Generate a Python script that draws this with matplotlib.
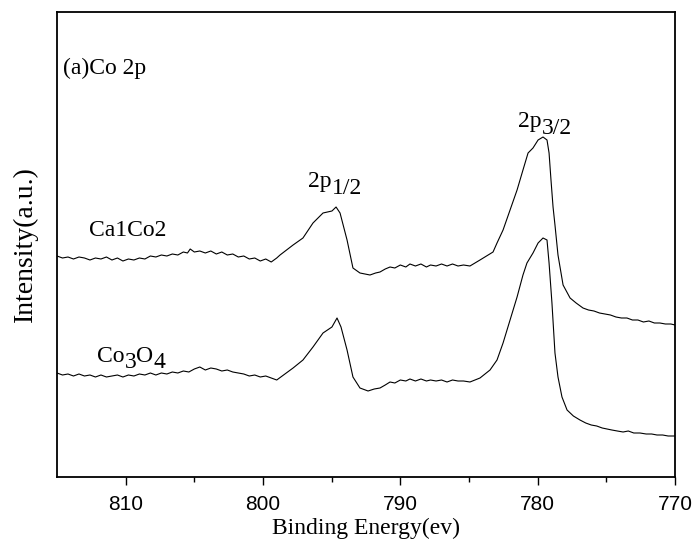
import matplotlib
matplotlib.use('Agg')
import matplotlib.pyplot as plt

# binding energy (eV) and intensity (a.u.)
ca_x = [815.0, 814.6, 814.2, 813.8, 813.4, 813.0, 812.6, 812.2, 811.8, 811.4,
        811.0, 810.6, 810.2, 809.8, 809.4, 809.0, 808.6, 808.2, 807.8, 807.4,
        807.0, 806.6, 806.2, 805.8, 805.5, 805.3, 805.0, 804.6, 804.2, 803.8,
        803.4, 803.0, 802.6, 802.2, 801.8, 801.4, 801.0, 800.6, 800.2, 799.8,
        799.4, 799.0, 798.76, 797.81, 797.09, 796.36, 795.63, 794.98, 794.68, 794.39,
        793.88, 793.45, 792.94, 792.21, 791.8, 791.48, 791.1, 790.75, 790.4, 790.0,
        789.6, 789.3, 788.9, 788.5, 788.1, 787.8, 787.4, 787.0, 786.6, 786.2,
        785.8, 785.4, 784.93, 784.20, 783.25, 782.96, 782.52, 782.01, 781.50, 781.07,
        780.70, 780.34, 779.97, 779.61, 779.32, 779.17, 779.03, 778.88, 778.74, 778.52,
        778.15, 777.64, 777.2, 776.7, 776.3, 775.9, 775.5, 775.1, 774.7, 774.3,
        773.9, 773.5, 773.1, 772.7, 772.3, 771.9, 771.5, 771.1, 770.7, 770.3,
        770.0]
ca_y = [221, 219, 220, 218, 220, 219, 217, 219, 218, 220,
        217, 219, 216, 218, 217, 219, 218, 221, 220, 222,
        221, 223, 222, 225, 224, 228, 225, 226, 224, 226,
        223, 225, 222, 223, 220, 221, 218, 219, 216, 218,
        215, 219, 222, 232, 239, 254, 264, 266, 270, 264,
        237, 209, 204, 202, 204, 205, 208, 210, 209, 212,
        210, 213, 211, 213, 210, 212, 211, 213, 211, 213,
        211, 212, 211, 217, 225, 234, 247, 267, 287, 307,
        324, 329, 337, 340, 337, 324, 297, 270, 252, 222,
        192, 179, 174, 169, 167, 166, 164, 163, 162, 160,
        159, 159, 157, 157, 155, 156, 154, 154, 153, 153,
        152]

co_x = [815.0, 814.6, 814.2, 813.8, 813.4, 813.0, 812.6, 812.2, 811.8, 811.4,
        811.0, 810.6, 810.2, 809.8, 809.4, 809.0, 808.6, 808.2, 807.8, 807.4,
        807.0, 806.6, 806.2, 805.8, 805.4, 805.0, 804.6, 804.2, 803.8, 803.4,
        803.0, 802.6, 802.2, 801.8, 801.4, 801.0, 800.6, 800.2, 799.8, 799.4,
        799.0, 797.81, 797.09, 796.36, 795.63, 794.98, 794.61, 794.32, 793.88, 793.45,
        792.94, 792.35, 791.9, 791.48, 791.1, 790.75, 790.4, 790.0, 789.6, 789.3,
        788.9, 788.5, 788.1, 787.8, 787.4, 787.0, 786.6, 786.2, 785.8, 785.4,
        784.93, 784.20, 783.47, 782.96, 782.52, 782.01, 781.50, 781.07, 780.78, 780.34,
        779.97, 779.61, 779.32, 779.17, 778.96, 778.74, 778.52, 778.23, 777.86, 777.4,
        776.92, 776.5, 776.1, 775.7, 775.3, 774.95, 774.6, 774.2, 773.78, 773.4,
        773.0, 772.55, 772.1, 771.7, 771.31, 770.9, 770.5, 770.0]
co_y = [104, 102, 103, 101, 103, 101, 102, 100, 102, 100,
        101, 102, 100, 102, 101, 103, 102, 104, 102, 104,
        103, 105, 104, 106, 105, 108, 110, 107, 109, 108,
        106, 107, 105, 104, 103, 101, 102, 100, 101, 99,
        97, 109, 117, 130, 144, 150, 159, 150, 127, 100,
        89, 86, 88, 89, 92, 95, 94, 97, 96, 98,
        96, 98, 96, 97, 96, 97, 95, 97, 96, 96,
        95, 99, 107, 117, 134, 157, 180, 202, 214, 224,
        234, 239, 237, 214, 174, 124, 100, 80, 67, 61,
        57, 54, 52, 51, 49, 48, 47, 46, 45, 46,
        44, 44, 43, 43, 42, 42, 41, 41]

serif = 'Liberation Serif'
sans = 'Liberation Sans'

fig = plt.figure(figsize=(6.93, 5.48), dpi=100)
ax = fig.add_axes([57/693, 71/548, 618/693, 465/548])

ax.plot(ca_x, ca_y, color='black', lw=0.8)
ax.plot(co_x, co_y, color='black', lw=0.8)

ax.set_xlim(815, 770)
ax.set_ylim(0, 465)
ax.set_xticks([810, 800, 790, 780, 770])
ax.set_xticks([805, 795, 785, 775], minor=True)
ax.set_yticks([])
ax.tick_params(axis='x', which='major', direction='out', length=6, width=1, pad=7,
               labelsize=15)
ax.tick_params(axis='x', which='minor', direction='out', length=3.5, width=1)
for lab in ax.get_xticklabels():
    lab.set_fontfamily(sans)
for sp in ax.spines.values():
    sp.set_linewidth(1.3)

ax.set_xlabel('Binding Energy(ev)', fontfamily=serif, fontsize=17, labelpad=3)
ax.set_ylabel('Intensity(a.u.)', fontfamily=serif, fontsize=20, labelpad=14)

fs = 17
renderer = fig.canvas.get_renderer()


def chain(x, y, parts):
    # place text pieces one after another, each with its own vertical shift (px)
    dx = 0
    for s, dy in parts:
        t = ax.annotate(s, (x, y), xytext=(dx, dy), textcoords='offset pixels',
                        fontfamily=serif, fontsize=fs, va='center', ha='left')
        dx += t.get_window_extent(renderer).width


chain(814.56, 409, [('(a)Co 2p', 0)])
chain(812.67, 246, [('Ca1Co2', 0)])
chain(812.09, 121, [('Co', 0), ('3', -7), ('O', 0), ('4', -7)])
chain(796.72, 295, [('2p', 0), ('1/2', -7)])
chain(781.43, 355, [('2p', 0), ('3/2', -7)])

fig.savefig('out.png', dpi=100)
